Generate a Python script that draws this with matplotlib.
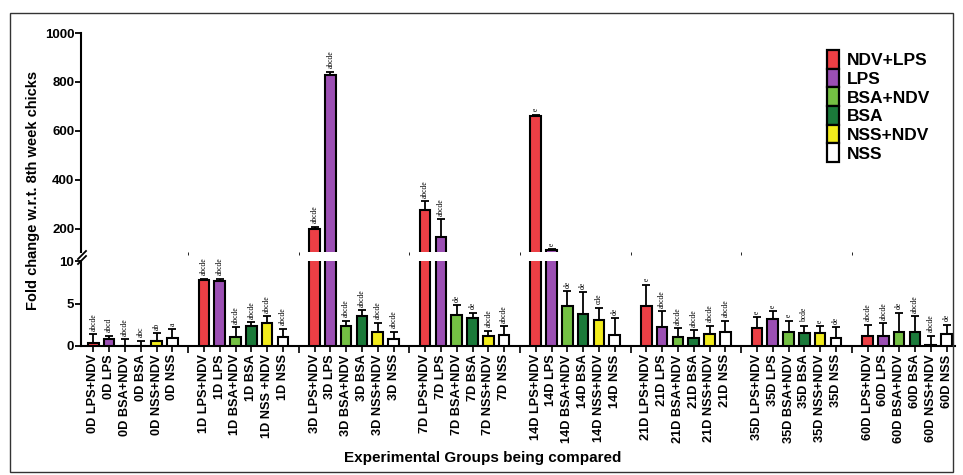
import matplotlib
matplotlib.use("Agg")
import matplotlib.pyplot as plt
import numpy as np
from matplotlib.patches import Patch, Rectangle
from matplotlib.lines import Line2D

days = ['0D', '1D', '3D', '7D', '14D', '21D', '35D', '60D']
legend_labels = ['NDV+LPS', 'LPS', 'BSA+NDV', 'BSA', 'NSS+NDV', 'NSS']
colors = ['#EC3F45', '#9B4FB3', '#74C043', '#1B7A3A', '#F2EC1C', '#FFFFFF']

tick_labels = [
    ['0D LPS+NDV', '0D LPS', '0D BSA+NDV', '0D BSA', '0D NSS+NDV', '0D NSS'],
    ['1D LPS+NDV', '1D LPS', '1D BSA+NDV', '1D BSA', '1D NSS +NDV', '1D NSS'],
    ['3D LPS+NDV', '3D LPS', '3D BSA+NDV', '3D BSA', '3D NSS+NDV', '3D NSS'],
    ['7D LPS+NDV', '7D LPS', '7D BSA+NDV', '7D BSA', '7D NSS+NDV', '7D NSS'],
    ['14D LPS+NDV', '14D LPS', '14D BSA+NDV', '14D BSA', '14D NSS+NDV', '14D NSS'],
    ['21D LPS+NDV', '21D LPS', '21D BSA+NDV', '21D BSA', '21D NSS+NDV', '21D NSS'],
    ['35D LPS+NDV', '35D LPS', '35D BSA+NDV', '35D BSA', '35D NSS+NDV', '35D NSS'],
    ['60D LPS+NDV', '60D LPS', '60D BSA+NDV', '60D BSA', '60D NSS+NDV', '60D NSS'],
]

means = [
    [0.4, 0.8, 0.0, 0.0, 0.6, 0.9],
    [7.8, 7.6, 1.1, 2.3, 2.7, 1.05],
    [201, 829, 2.3, 3.5, 1.6, 0.87],
    [278, 169, 3.7, 3.3, 1.14, 1.34],
    [662, 115, 4.7, 3.8, 3.03, 1.26],
    [4.76, 2.28, 1.06, 1.0, 1.46, 1.65],
    [2.17, 3.15, 1.65, 1.57, 1.54, 0.9],
    [1.18, 1.14, 1.6, 1.6, 0.1, 1.38],
]

errors = [
    [1.0, 0.4, 0.8, 0.6, 0.9, 1.1],
    [0.1, 0.3, 1.1, 0.5, 0.8, 1.0],
    [8, 13, 0.7, 0.7, 1.15, 0.83],
    [36, 70, 1.1, 0.6, 0.63, 0.96],
    [4, 3, 1.75, 2.5, 1.47, 2.0],
    [2.44, 1.82, 1.04, 0.85, 0.94, 1.3],
    [1.23, 0.95, 1.35, 0.8, 0.76, 1.3],
    [1.32, 1.56, 2.3, 1.9, 1.1, 1.12],
]

letters = [
    ['abcde', 'abcd', 'abcde', 'abc', 'ab', 'a'],
    ['abcde', 'abcde', 'abcde', 'abcde', 'abcde', 'abcde'],
    ['abcde', 'abcde', 'abcde', 'abcde', 'abcde', 'abcde'],
    ['abcde', 'abcde', 'de', 'de', 'abcde', 'abcde'],
    ['e', 'e', 'de', 'de', 'cde', 'de'],
    ['e', 'abcde', 'abcde', 'abcde', 'abcde', 'abcde'],
    ['e', 'e', 'e', 'bcde', 'e', 'de'],
    ['abcde', 'abcde', 'de', 'abcde', 'abcde', 'de'],
]

W, H = 963, 475
fig = plt.figure(figsize=(W / 100, H / 100), dpi=100)
sans = ['Liberation Sans', 'DejaVu Sans']
serif = ['Liberation Serif', 'DejaVu Serif']

def fx(px):
    return px / W

def fy(py):
    return 1 - py / H

x_left_px, x_right_px = 81, 955
# bottom segment: 0 at y=346, 10 at y=261 ; top segment: 106 at y=252, 1000 at y=33
ax_b = fig.add_axes([fx(x_left_px), fy(346), fx(x_right_px - x_left_px), (346 - 261) / H])
ax_t = fig.add_axes([fx(x_left_px), fy(252), fx(x_right_px - x_left_px), (252 - 33) / H], sharex=ax_b)

x0 = 93.3
step = 15.8
xmin = (x_left_px - x0) / step
xmax = (x_right_px - x0) / step

positions = []
labels_flat = []
for g in range(len(days)):
    for t in range(6):
        positions.append(g * 7 + t)
        labels_flat.append(tick_labels[g][t])

bw = 0.68
lw = 1.5
for ax, lo, hi in [(ax_b, 0, 10), (ax_t, 106, 1000)]:
    for g in range(len(days)):
        for t in range(6):
            p = g * 7 + t
            m = means[g][t]
            e = errors[g][t]
            ax.bar(p, m, width=bw, color=colors[t], edgecolor='black', linewidth=lw, zorder=3)
            ax.errorbar(p, m, yerr=[[0], [e]], fmt='none', ecolor='black', elinewidth=1.3,
                        capsize=3, capthick=1.3, zorder=2)
    ax.set_ylim(lo, hi)
    ax.set_xlim(xmin, xmax)
    for s in ['top', 'right']:
        ax.spines[s].set_visible(False)
    ax.spines['left'].set_linewidth(1.5)
    ax.tick_params(axis='y', length=4, width=1.3, labelsize=9.5, pad=0.8)

# annotations
for g in range(len(days)):
    for t in range(6):
        p = g * 7 + t
        top = means[g][t] + errors[g][t]
        ax = ax_t if means[g][t] > 10 else ax_b
        ax.annotate(letters[g][t], xy=(p, top), xytext=(0, 2.5), textcoords='offset points',
                    rotation=90, ha='center', va='bottom', fontsize=5.5, family=serif,
                    annotation_clip=False, zorder=5)

ax_t.spines['bottom'].set_visible(False)
ax_t.tick_params(axis='x', bottom=False, labelbottom=False)
ax_t.set_yticks([200, 400, 600, 800, 1000])
ax_b.set_yticks([0, 5, 10])
ax_b.spines['bottom'].set_linewidth(1.5)

ax_b.set_xticks(positions, labels_flat)
ax_b.set_xticks([6, 13, 20, 27, 34, 41, 48], minor=True)
ax_b.tick_params(axis='x', which='major', length=4, width=1.2, labelsize=9.2, pad=2, rotation=90)
ax_b.tick_params(axis='x', which='minor', length=5, width=1.2)

for ax in (ax_b, ax_t):
    for lab in ax.get_yticklabels() + ax.get_xticklabels():
        lab.set_fontweight('bold')
        lab.set_family(sans)

# break mark on y axis
for dy in (0, 5):
    fig.add_artist(Line2D([fx(78), fx(86)], [fy(262 - dy + 2), fy(254 - dy + 2)],
                          color='black', lw=1.3, transform=fig.transFigure))

fig.text(fx(33), fy(190), 'Fold change w.r.t. 8th week chicks', rotation=90, ha='center', va='center',
         fontsize=10.5, fontweight='bold', family=sans)
fig.text(fx(483), fy(458), 'Experimental Groups being compared', ha='center', va='center',
         fontsize=11, fontweight='bold', family=sans)

handles = [Patch(facecolor=c, edgecolor='black', linewidth=1.6) for c in colors]
leg = ax_t.legend(handles, legend_labels, loc='upper left',
                  bbox_to_anchor=((827 - 81) / 874, 1 - (50 - 33) / 219),
                  frameon=False, prop={'family': sans, 'weight': 'bold', 'size': 12.5},
                  handlelength=0.7, handleheight=1.28, handletextpad=0.45, labelspacing=0.0,
                  borderaxespad=0, borderpad=0)

# figure border
fig.add_artist(Rectangle((fx(10), fy(472)), fx(943), (472 - 13) / H, fill=False,
                         edgecolor='#333333', lw=1.0, transform=fig.transFigure))

fig.savefig('out.png', dpi=100)
